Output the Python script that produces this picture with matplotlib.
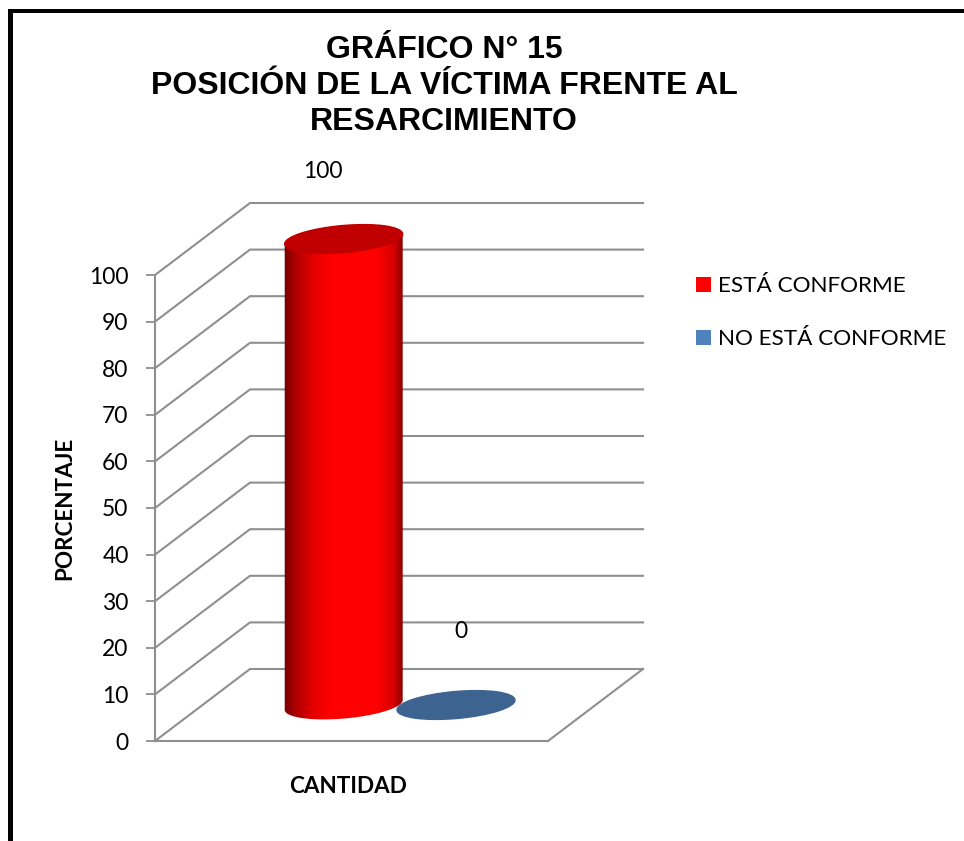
import numpy as np
import matplotlib
matplotlib.use("Agg")
import matplotlib.pyplot as plt
from matplotlib.colors import LinearSegmentedColormap
from matplotlib.patches import Ellipse, Patch, Polygon, Rectangle

TITLE = "GRÁFICO N° 15\nPOSICIÓN DE LA VÍCTIMA FRENTE AL\nRESARCIMIENTO"
SERIES = ["ESTÁ CONFORME", "NO ESTÁ CONFORME"]
VALUES = [100, 0]
COLORS = ["#ff0000", "#4f81bd"]
YTICKS = list(range(0, 101, 10))

W, H = 964, 841
PX = 4.66  # pixels per percent
FONT = "Lato"
GRID = "#8f8f8f"

# fake 3d layout, all in data units (x and y share the same scale)
PLANE_W = 393 / PX
DX, DY = 95 / PX, 72 / PX
CENTERS = [30.3, 54.4]
A, B, TILT = 59.2 / PX, 13.5 / PX, 5.0


def ell_pts(cx, cy, t):
    th = np.radians(TILT)
    return np.c_[cx + A * np.cos(t) * np.cos(th) - B * np.sin(t) * np.sin(th),
                 cy + A * np.cos(t) * np.sin(th) + B * np.sin(t) * np.cos(th)]


fig = plt.figure(figsize=(W / 100, H / 100), dpi=100, facecolor="white")
ax = fig.add_axes([155 / W, (H - 741) / H, 393 / W, 466 / H])
ax.set_xlim(0, PLANE_W)
ax.set_ylim(0, 100)
ax.patch.set_alpha(0)

for s in ["top", "right"]:
    ax.spines[s].set_visible(False)
for s in ["left", "bottom"]:
    ax.spines[s].set_color(GRID)
    ax.spines[s].set_linewidth(1.5)
ax.set_xticks([])
ax.set_yticks(YTICKS)
ax.tick_params(axis="y", length=6.5, width=1.3, color=GRID, pad=12.5, labelsize=16.5)
for lb in ax.get_yticklabels():
    lb.set_fontfamily(FONT)

# walls
for v in YTICKS:
    ax.plot([0, DX, DX + PLANE_W], [v, v + DY, v + DY], color=GRID, lw=1.5, clip_on=False, zorder=1)
ax.plot([PLANE_W, PLANE_W + DX], [0, DY], color=GRID, lw=1.5, clip_on=False, zorder=1)

# cylinders
cmap = LinearSegmentedColormap.from_list("cyl", [
    (0.0, "#780000"), (0.1, "#b00000"), (0.25, "#e60000"), (0.4, "#ff0000"),
    (0.78, "#ff0000"), (0.92, "#d80000"), (1.0, "#8c0000")])
t_left = np.pi + np.arctan(-(B / A) * np.tan(np.radians(TILT)))
for x, val, col in zip(CENTERS, VALUES, COLORS):
    base = DY / 2
    top = base + val
    cx = x + DX / 2
    if val == 0:
        ax.add_patch(Ellipse((cx, base), 2 * A, 2 * B, angle=TILT, color="#3d6391",
                             zorder=3, clip_on=False))
        continue
    low = ell_pts(cx, base, np.linspace(t_left, t_left + np.pi, 60))
    up = ell_pts(cx, top, np.linspace(t_left + np.pi, t_left + 2 * np.pi, 60))
    body = Polygon(np.r_[low, up], transform=ax.transData, fc="none", ec="none")
    ax.add_patch(body)
    im = ax.imshow(np.linspace(0, 1, 256)[None, :], cmap=cmap, aspect="auto", zorder=4,
                   extent=[cx - A, cx + A, base - 4, top + 4])
    im.set_clip_box(fig.bbox)
    im.set_clip_path(body)
    ax.add_patch(Ellipse((cx, top), 2 * A, 2 * B, angle=TILT, color="#c00000", zorder=5, clip_on=False))
ax.set_xlim(0, PLANE_W)
ax.set_ylim(0, 100)

# data labels
LABEL_OFF = [(-21, 68), (5, 73)]
for x, val, off in zip(CENTERS, VALUES, LABEL_OFF):
    ax.annotate(str(val), (x + DX / 2, DY / 2 + val), xytext=(off[0] * 0.72, off[1] * 0.72),
                textcoords="offset points", ha="center", va="center", fontsize=16.5,
                family=FONT, annotation_clip=False, zorder=6)

ax.set_xlabel("CANTIDAD", fontsize=16.2, fontweight="bold", family=FONT, labelpad=25)
ax.xaxis.label.set_x((348 - 155) / 393)
ax.set_ylabel("PORCENTAJE", fontsize=16.2, fontweight="bold", family=FONT, labelpad=10)
ax.yaxis.label.set_y((741 - 508) / 466)

fig.text(444 / W, 1 - 86 / H, TITLE, ha="center", va="center", fontsize=23, fontweight="bold",
         family="Liberation Sans", linespacing=1.25)

handles = [Patch(fc=c, ec="none") for c in COLORS]
fig.legend(handles, SERIES, loc="upper left", bbox_to_anchor=(678 / W, 1 - 258 / H), frameon=False,
           prop={"family": FONT, "size": 16.2}, handlelength=0.66, handleheight=0.66,
           handletextpad=0.3, labelspacing=1.47, borderpad=0.3)

# black frame of the original picture, cut at right and bottom
fig.add_artist(Rectangle((8 / W, 0), 5 / W, 1 - 9 / H, transform=fig.transFigure, fc="black", ec="none"))
fig.add_artist(Rectangle((8 / W, 1 - 13 / H), 1, 4 / H, transform=fig.transFigure, fc="black", ec="none"))

fig.savefig("out.png", dpi=100)
